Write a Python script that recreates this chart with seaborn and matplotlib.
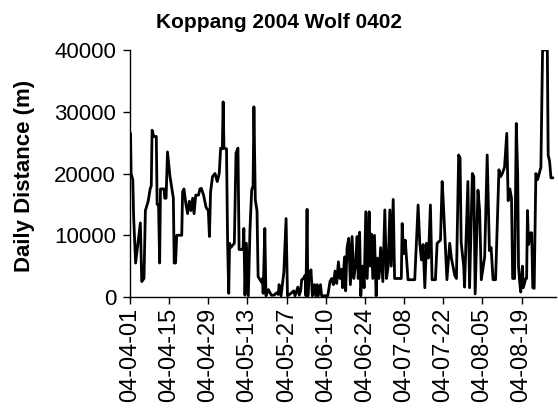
import numpy as np
import pandas as pd
import seaborn as sns
import matplotlib.pyplot as plt
import matplotlib.dates as mdates

# days since 2004-04-01 for each GPS fix, and the daily distance in metres
fix_day = [
    0.0, 0.2, 0.4, 1.0, 1.3, 2.0, 3.7, 4.2, 5.0, 5.5, 6.5, 7.2, 7.6, 7.9, 8.5, 9.4,
    9.7, 10.2, 10.6, 10.9, 12.2, 12.4, 12.9, 13.4, 14.3, 15.5, 15.8, 16.3, 16.7, 18.5,
    18.8, 19.3, 20.0, 20.6, 21.2, 21.8, 22.4, 22.9, 23.5, 24.5, 25.0,
    25.5, 26.3, 27.2, 28.0, 28.4, 28.8, 29.5, 30.4, 31.2, 31.9, 32.4, 33.0, 33.3, 33.6,
    34.5, 34.9, 35.3, 35.6, 36.0, 37.3, 37.9, 38.6, 39.0, 40.4, 40.7, 41.1, 41.6, 42.3,
    42.9, 43.5, 44.0, 44.3, 44.8, 45.4, 45.8, 47.0, 47.4, 47.6, 48.2, 48.6, 49.0, 49.5,
    50.5, 51.5, 52.5, 53.0, 53.3, 54.0, 55.0, 55.8, 56.3, 57.3, 58.0, 58.5, 59.0, 60.0,
    60.5, 61.0, 61.4, 62.0, 62.6, 62.9, 63.3, 63.6, 64.0, 64.7, 65.2, 65.9, 66.4, 66.9,
    67.3, 68.1, 68.5, 70.7, 71.5, 72.1, 72.7, 73.3, 73.9, 74.5, 75.1, 75.7, 76.0, 76.7,
    77.1, 77.6, 78.2, 78.8, 79.4, 80.0, 80.6, 81.2, 81.6, 82.1, 82.5, 83.2, 83.7, 84.3,
    84.8, 85.5, 85.9, 86.3, 86.8, 87.4, 88.0, 88.4, 89.0, 89.6, 90.4, 91.1, 91.7, 92.3,
    92.9, 93.4, 94.1, 94.6, 97.0, 97.3, 97.8, 98.4, 98.9, 99.4, 101.8,
    103.0, 103.6, 104.2, 104.8, 105.4, 106.0, 106.7, 107.4, 108.0, 109.2, 109.8, 111.0,
    111.6, 112.1, 112.7, 113.3, 114.3, 114.9, 116.1, 116.7, 117.5, 118.0, 118.4, 119.3,
    119.6, 120.8, 121.4, 122.4, 122.9, 123.4, 124.4, 125.0, 125.6, 126.8, 127.7, 128.5,
    129.1, 129.8, 130.7,
    131.9, 132.5, 133.1, 133.9, 134.7, 135.2, 135.8, 136.4, 136.8, 137.5, 138.1, 138.6,
    138.9, 139.3, 139.7, 140.3, 140.6, 141.5, 141.8, 142.1, 142.5, 143.3, 143.6, 144.0,
    144.5, 145.1, 145.7, 146.9, 147.2, 147.5, 149.2, 149.5, 150.0, 150.5, 151.2,
]
distance_m = [
    20000, 26500, 20000, 19000, 13000, 5500, 12000, 2500, 3000, 14000, 15500, 17500, 18000, 27000, 26000, 26000,
    15000, 15000, 5500, 17500, 17500, 16000, 16000, 23500, 19500, 16000, 5500, 5500, 10000, 10000,
    17000, 17500, 15000, 13500, 15500, 14000, 16000, 13500, 16500, 16500, 17500,
    17600, 16500, 14500, 14000, 9800, 17000, 19500, 20000, 18700, 20000, 24100, 24000, 31600, 24100,
    24000, 8700, 600, 8700, 8000, 8700, 23300, 24100, 7700, 7700, 11100, 300, 8700, 200,
    11000, 17300, 18000, 30800, 15700, 14000, 3300, 2400, 3000, 600, 11100, 200, 600, 1200,
    300, 300, 700, 400, 2000, 200, 4000, 12700, 200, 500, 800, 1000, 200, 1600,
    300, 1000, 2800, 3000, 3500, 200, 14200, 200, 3500, 4400, 200, 2000, 200, 2000,
    200, 2000, 200, 200, 2500, 3000, 2000, 4200, 2200, 5700, 3000, 4500, 1500, 6500,
    1000, 8000, 9500, 2000, 9800, 3000, 5000, 9800, 3000, 10500, 200, 5000, 1500, 13800,
    3000, 13800, 5000, 10200, 3000, 10000, 200, 6300, 3000, 8000, 2500, 14100, 3000, 5000,
    14100, 5000, 15800, 3000, 3000, 11900, 7000, 9200, 6000, 2800, 2800,
    14900, 8700, 6000, 8500, 1500, 8700, 6300, 14900, 2800, 2800, 8700, 9200,
    18700, 14500, 8700, 2800, 8700, 6300, 3500, 3000, 23000, 22500, 8800, 5000,
    1600, 18700, 1500, 20000, 19500, 500, 17300, 14000, 2800, 6500, 23000, 7500,
    8000, 2800, 2800,
    20600, 19500, 20000, 21000, 26500, 15600, 17500, 16000, 3000, 3000, 28100, 20000,
    5000, 2500, 800, 5000, 1500, 3000, 3000, 14000, 8500, 10400, 10400, 1500,
    1400, 20000, 19000, 21000, 30000, 40000, 40000, 23000, 22000, 19300, 19300,
]

start = pd.Timestamp("2004-04-01")
tick_dates = pd.date_range(start, periods=11, freq="14D")

df = pd.DataFrame({
    "date": start + pd.to_timedelta(fix_day, unit="D"),
    "distance": distance_m,
})

sns.set_style("ticks")
plt.rcParams["font.family"] = ["Liberation Sans", "DejaVu Sans"]
plt.rcParams["text.color"] = "black"
plt.rcParams["axes.labelcolor"] = "black"
plt.rcParams["xtick.color"] = "black"
plt.rcParams["ytick.color"] = "black"

fig = plt.figure(figsize=(5.58, 4.08), dpi=100)
ax = fig.add_axes([130 / 558, 1 - 297 / 408, 426 / 558, 247 / 408])

sns.lineplot(data=df, x="date", y="distance", color="black", linewidth=2.0,
             estimator=None, ax=ax)

ax.set_xlim(start, start + pd.Timedelta(days=152.3))
ax.set_ylim(0, 40000)
ax.set_yticks([0, 10000, 20000, 30000, 40000])
ax.set_xticks(tick_dates)
ax.xaxis.set_major_formatter(mdates.DateFormatter("%y-%m-%d"))

ax.tick_params(axis="both", direction="out", length=5, width=1, color="black")
ax.tick_params(axis="y", labelsize=16, pad=5)
ax.tick_params(axis="x", labelsize=17, pad=3, labelrotation=90)

ax.set_xlabel("")
ax.set_ylabel("Daily Distance (m)", fontsize=16, fontweight="bold")
ax.yaxis.set_label_coords(-0.223, 0.49)

sns.despine(ax=ax)
for s in ["left", "bottom"]:
    ax.spines[s].set_color("black")
    ax.spines[s].set_linewidth(1)

fig.text(0.5, 1 - 23 / 408, "Koppang 2004 Wolf 0402", ha="center", va="center",
         fontsize=15, fontweight="bold")

fig.savefig("out.png", dpi=100)
